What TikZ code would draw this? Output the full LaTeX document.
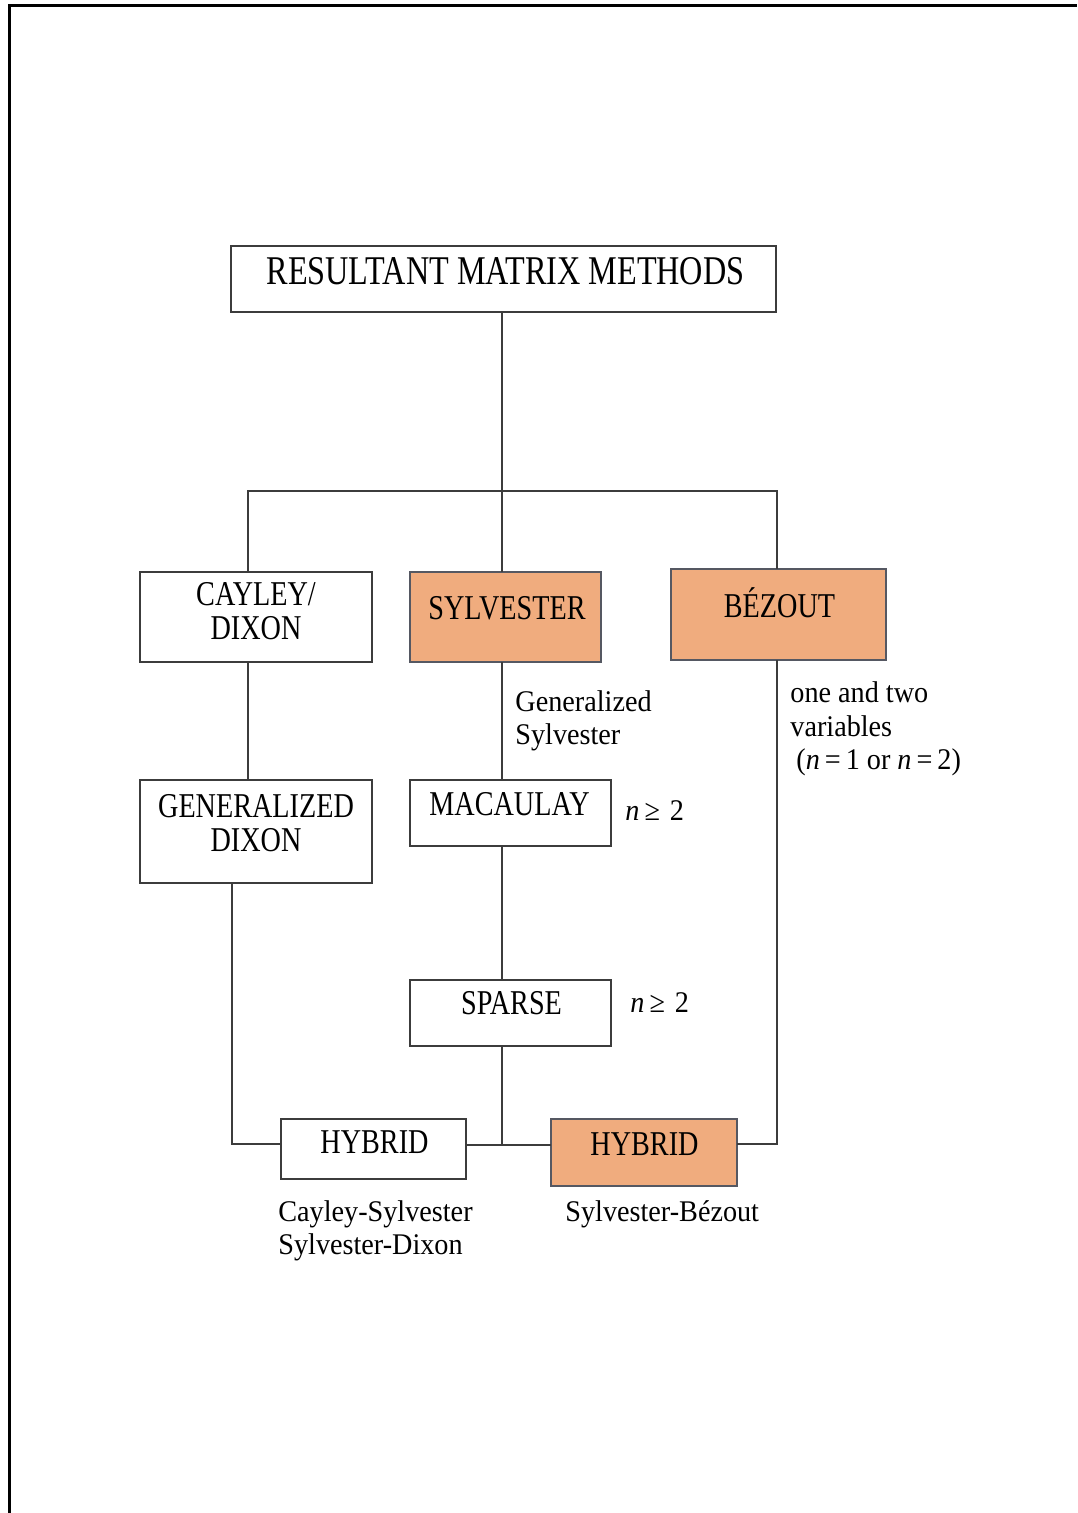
\documentclass[tikz,border=0pt]{standalone}
\usepackage{fontspec}
\setmainfont{Liberation Serif}
\newfontfamily\titlef[FakeStretch=0.79]{Liberation Serif}
\newfontfamily\capsf[FakeStretch=0.81]{Liberation Serif}
\newfontfamily\labf[FakeStretch=0.94]{Liberation Serif}
\definecolor{boxorange}{RGB}{240,172,126}
\definecolor{edgegray}{RGB}{60,60,60}
\definecolor{oedge}{RGB}{85,88,98}
\begin{document}
\begin{tikzpicture}[x=0.5pt,y=-0.5pt,
  box/.style={draw=edgegray, line width=0.9pt, inner sep=0pt, outer sep=0pt},
  obox/.style={box, fill=boxorange, draw=oedge},
  conn/.style={draw=edgegray, line width=0.75pt},
  capt/.style={font=\capsf\fontsize{17.4}{17}\selectfont, align=center, inner sep=0pt},
  lab/.style={font=\labf\fontsize{15}{16.8}\selectfont, align=left, inner sep=0pt, anchor=west}]
\useasboundingbox (0,0) rectangle (1077,1513);
\draw[line width=1.5pt] (9,1513) -- (9,6) -- (1077,6);
% boxes
\node[box, minimum width=272.5pt, minimum height=33pt] (title) at (503.5,279) {};
\node[box, minimum width=116pt, minimum height=45pt] (cayley) at (256,617) {};
\node[obox, minimum width=95.5pt, minimum height=45pt] (sylv) at (505.5,617) {};
\node[obox, minimum width=107.5pt, minimum height=45.5pt] (bez) at (778.5,614.5) {};
\node[box, minimum width=116pt, minimum height=51.5pt] (gdixon) at (256,831.5) {};
\node[box, minimum width=100.5pt, minimum height=33pt] (macaulay) at (510.5,813) {};
\node[box, minimum width=100.5pt, minimum height=33pt] (sparse) at (510.5,1013) {};
\node[box, minimum width=92.5pt, minimum height=30pt] (hyb1) at (373.5,1149) {};
\node[obox, minimum width=93pt, minimum height=33.5pt] (hyb2) at (644,1152.5) {};
% box texts
\node[inner sep=0pt, font=\titlef\fontsize{20.4}{22}\selectfont] (titletxt) at (505.5,271.5) {RESULTANT MATRIX METHODS};
\node[capt] (cayleytxt) at (256,611) {CAYLEY/\\DIXON};
\node[capt] (sylvtxt) at (507,608) {SYLVESTER};
\node[capt] (beztxt) at (779.5,603) {BÉZOUT};
\node[capt] (gdixontxt) at (256,823) {GENERALIZED\\DIXON};
\node[capt] (macaulaytxt) at (509.5,804) {MACAULAY};
\node[capt] (sparsetxt) at (511.5,1003) {SPARSE};
\node[capt] (hyb1txt) at (374.5,1142) {HYBRID};
\node[capt] (hyb2txt) at (644.5,1144) {HYBRID};
% labels
\node[lab] (genlab) at (515,721) {Generalized\\Sylvester};
\node[lab] (varlab) at (790,729) {one and two\\variables\\\hspace*{3pt}(\textit{n}\,=\,1 or \textit{n}\,=\,2)};
\node[lab] (n1) at (625,811) {\textit{n}\,≥\,\,2};
\node[lab] (n2) at (630,1003) {\textit{n}\,≥\,\,2};
\node[lab] (cslab) at (278,1231) {Cayley-Sylvester\\Sylvester-Dixon};
\node[lab] (sblab) at (565,1214) {Sylvester-Bézout};
% connectors
\coordinate (j0) at (502,491);
\coordinate (jl) at (248,491);
\coordinate (jr) at (777,491);
\coordinate (jb) at (502,1145);
\coordinate (jg) at (232,1144);
\coordinate (jh) at (777,1144);
\draw[conn] (title.south -| j0) -- (j0);
\draw[conn] (cayley.north -| jl) -- (jl) -- (jr) -- (bez.north -| jr);
\draw[conn] (j0) -- (sylv.north -| j0);
\draw[conn] (cayley.south -| jl) -- (gdixon.north -| jl);
\draw[conn] (sylv.south -| j0) -- (macaulay.north -| j0);
\draw[conn] (macaulay.south -| j0) -- (sparse.north -| j0);
\draw[conn] (sparse.south -| jb) -- (jb);
\draw[conn] (hyb1.east |- jb) -- (hyb2.west |- jb);
\draw[conn] (gdixon.south -| jg) -- (jg) -- (hyb1.west |- jg);
\draw[conn] (bez.south -| jh) -- (jh) -- (hyb2.east |- jh);
\end{tikzpicture}
\end{document}
